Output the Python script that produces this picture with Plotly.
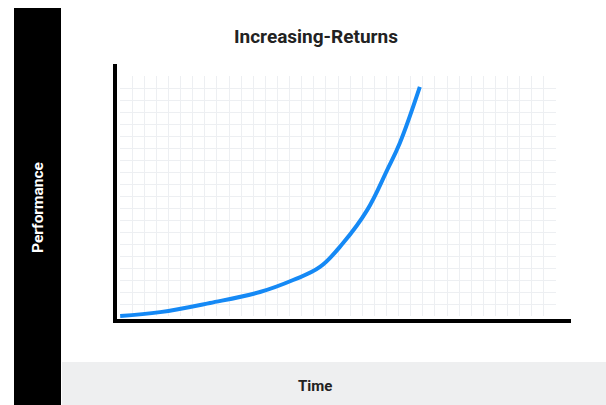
import plotly.graph_objects as go

# Data (curve; x = time, y = performance, 0-100 scales)
time_vals = [0.7, 9.5, 20.5, 31.5, 38.8, 44.7, 49.8, 55.1, 59.5, 62.3, 66.7]
perf_vals = [1.2, 2.7, 6.3, 10.6, 15.3, 20.4, 29.8, 42.7, 58.4, 69.0, 91.0]

title_text = "Increasing-Returns"
x_label = "Time"
y_label = "Performance"

W, H = 606, 405

def px_x(p):
    return p / W

def px_y(p):
    return 1 - p / H

fig = go.Figure()

# empty trace so the background grid subplot is rendered
fig.add_trace(go.Scatter(x=[], y=[], xaxis="x", yaxis="y", mode="lines",
                         hoverinfo="skip", showlegend=False))

fig.add_trace(go.Scatter(
    x=time_vals, y=perf_vals, xaxis="x2", yaxis="y2",
    mode="lines", line=dict(color="#1589f5", width=4, shape="spline", smoothing=1.1),
    hoverinfo="skip", showlegend=False,
))

grid_color = "#edeff2"
fig.update_layout(
    width=W, height=H,
    margin=dict(l=0, r=0, t=0, b=0),
    paper_bgcolor="white", plot_bgcolor="rgba(0,0,0,0)",
    showlegend=False,
    # grid subplot (drawn first, underneath)
    xaxis=dict(domain=[px_x(120), px_x(556)], range=[0, 36], dtick=1,
               showgrid=True, gridcolor=grid_color, gridwidth=1,
               showticklabels=False, ticks="", zeroline=False, showline=False,
               anchor="y", fixedrange=True),
    yaxis=dict(domain=[px_y(316), px_y(76)], range=[0, 20], dtick=1,
               showgrid=True, gridcolor=grid_color, gridwidth=1,
               showticklabels=False, ticks="", zeroline=False, showline=False,
               anchor="x", fixedrange=True),
    # data subplot with thick black axes
    xaxis2=dict(domain=[px_x(117), px_x(571)], range=[0, 100],
                showgrid=False, showticklabels=False, ticks="", zeroline=False,
                showline=True, linecolor="black", linewidth=4, anchor="y2",
                fixedrange=True),
    yaxis2=dict(domain=[px_y(319), px_y(64)], range=[0, 100],
                showgrid=False, showticklabels=False, ticks="", zeroline=False,
                showline=True, linecolor="black", linewidth=4, anchor="x2",
                fixedrange=True),
)

# Decorative panels: black left band and grey bottom band
fig.add_shape(type="rect", xref="paper", yref="paper",
              x0=px_x(14), x1=px_x(61), y0=px_y(405), y1=px_y(8),
              fillcolor="black", line=dict(width=0), layer="below")
fig.add_shape(type="rect", xref="paper", yref="paper",
              x0=px_x(62), x1=1, y0=px_y(405), y1=px_y(362),
              fillcolor="#eeeff0", line=dict(width=0), layer="below")

fig.add_annotation(text="<b>%s</b>" % title_text, xref="paper", yref="paper",
                   x=px_x(316), y=px_y(36), showarrow=False,
                   font=dict(family="Roboto", size=19, color="#222222"),
                   xanchor="center", yanchor="middle")
fig.add_annotation(text="<b>%s</b>" % x_label, xref="paper", yref="paper",
                   x=px_x(315), y=px_y(386), showarrow=False,
                   font=dict(family="Roboto", size=15, color="#222222"),
                   xanchor="center", yanchor="middle")
fig.add_annotation(text="<b>%s</b>" % y_label, xref="paper", yref="paper",
                   x=px_x(38), y=px_y(208), showarrow=False, textangle=-90,
                   font=dict(family="Roboto", size=15.5, color="white"),
                   xanchor="center", yanchor="middle")

fig.write_html(
    "out.html",
    config={"displayModeBar": False, "staticPlot": True},
    post_script="document.body.style.margin='0';document.body.style.overflow='hidden';",
)
